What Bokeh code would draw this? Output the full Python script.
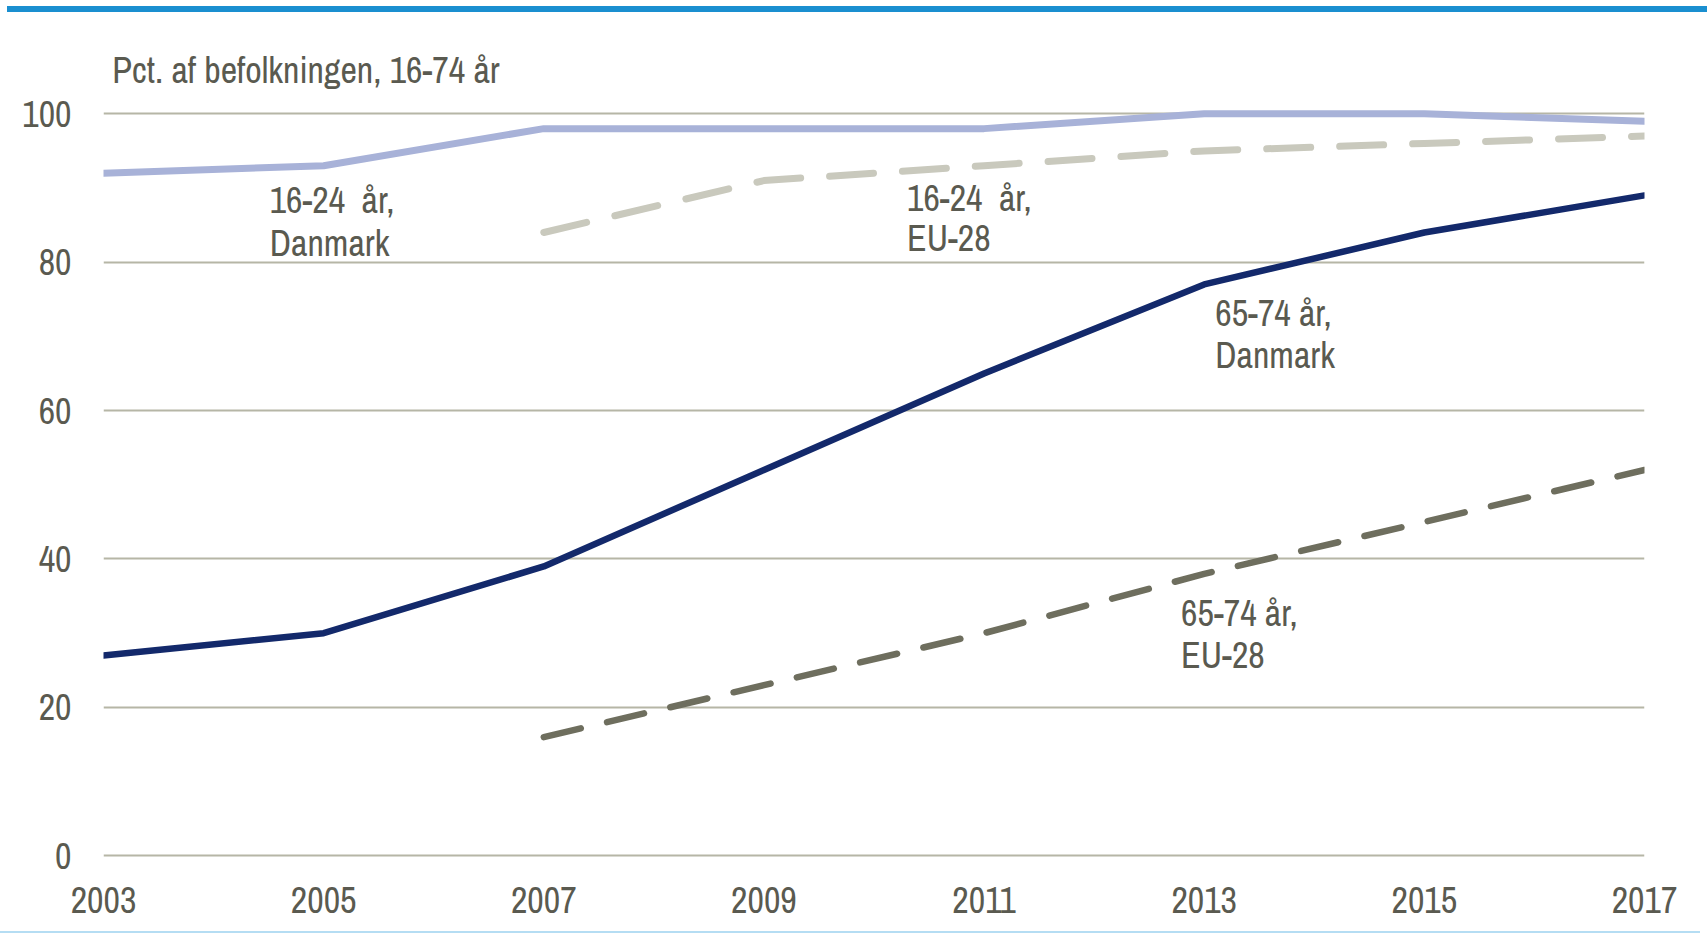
from bokeh.plotting import figure
from bokeh.models import Range1d, FixedTicker, Label, Div, NumeralTickFormatter
from bokeh.layouts import column
from bokeh.embed import file_html
from bokeh.resources import INLINE

# ---------------- data ----------------
years = [2003, 2005, 2007, 2009, 2011, 2013, 2015, 2017]
dk_16_24 = [92, 93, 98, 98, 98, 100, 100, 99]
dk_65_74 = [27, 30, 39, 52, 65, 77, 84, 89]
eu_years = [2007, 2009, 2011, 2013, 2015, 2017]
eu_16_24 = [84, 91, 93, 95, 96, 97]
eu_65_74 = [16, 23, 30, 38, 45, 52]
y_ticks = [0, 20, 40, 60, 80, 100]
x_ticks = years
y_title = "Pct. af befolkningen, 16-74 år"
series_labels = [
    ["16-24\u00a0\u00a0år,", "Danmark"],
    ["16-24\u00a0\u00a0år,", "EU-28"],
    ["65-74 år,", "Danmark"],
    ["65-74 år,", "EU-28"],
]

# ---------------- layout / style ----------------
FONT = "'Archivo Narrow', 'Liberation Sans', sans-serif"
TXT = "#5a5a50"
FS = "36px"
W, H = 1700, 919
LEFT, TOP, BOTTOM = 103, 20, 72
RIGHT = W - LEFT - 1541
frame_h = H - TOP - BOTTOM
px_per_unit = 7.42
y_start = -0.5
y_end = y_start + frame_h / px_per_unit

p = figure(width=W, height=H, output_backend="svg", toolbar_location=None,
           x_range=Range1d(2003, 2017), y_range=Range1d(y_start, y_end),
           min_border_left=LEFT, min_border_right=RIGHT,
           min_border_top=TOP, min_border_bottom=BOTTOM)
p.margin = 0
p.outline_line_color = None
p.background_fill_color = "white"
p.border_fill_color = "white"

p.xgrid.grid_line_color = None
p.ygrid.ticker = FixedTicker(ticks=y_ticks)
p.ygrid.grid_line_color = "#b6b6a6"
p.ygrid.grid_line_width = 2

for ax in (p.xaxis[0], p.yaxis[0]):
    ax.axis_line_color = None
    ax.major_tick_line_color = None
    ax.minor_tick_line_color = None
    ax.major_tick_out = 0
    ax.major_tick_in = 0
    ax.major_label_text_font = FONT
    ax.major_label_text_font_size = FS
    ax.major_label_text_color = TXT
    ax.formatter = NumeralTickFormatter(format="0")
p.xaxis[0].ticker = FixedTicker(ticks=x_ticks)
p.yaxis[0].ticker = FixedTicker(ticks=y_ticks)
p.xaxis[0].major_label_standoff = 27
p.yaxis[0].major_label_standoff = 32

# ---------------- lines ----------------
p.line(years, dk_16_24, line_color="#a8b2d8", line_width=7, line_join="round", line_cap="round")
p.line(eu_years, eu_16_24, line_color="#c9c9bd", line_width=7, line_dash="44 29", line_cap="round", line_join="round")
p.line(years, dk_65_74, line_color="#13296b", line_width=6.5, line_join="round", line_cap="round")
p.line(eu_years, eu_65_74, line_color="#6e6e5e", line_width=6.5, line_dash="38 27", line_cap="round", line_join="round")

# ---------------- annotations ----------------
def add_text(x, y, txt):
    p.add_layout(Label(x=x, y=y, text=txt, text_font=FONT, text_font_size=FS,
                       text_color=TXT, text_baseline="middle", text_align="left"))

add_text(2003.08, 105.9, y_title)
label_pos = [(2004.51, 88.4, 82.6), (2010.30, 88.7, 83.2), (2013.10, 73.2, 67.5), (2012.79, 32.7, 27.1)]
for (lx, ly1, ly2), (t1, t2) in zip(label_pos, series_labels):
    add_text(lx, ly1, t1)
    add_text(lx, ly2, t2)

top_bar = Div(text="", width=W, height=6, margin=(6, 0, 0, 7), styles={"background-color": "#1a8fd0"})
bottom_bar = Div(text="", width=W, height=2, margin=0, styles={"background-color": "#b5ddf3"})
layout = column(top_bar, p, bottom_bar, spacing=0, margin=0)

open("out.html", "w").write(file_html(layout, INLINE))
